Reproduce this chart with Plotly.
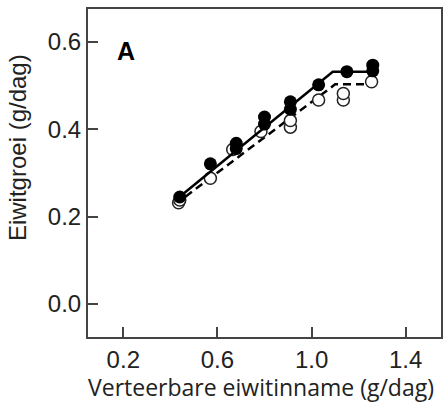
import plotly.graph_objects as go

# Filled circles (solid fit) and open circles (dashed fit)
filled_x = [0.44, 0.57, 0.68, 0.68, 0.80, 0.80, 0.91, 0.91, 1.03, 1.15, 1.26, 1.26]
filled_y = [0.245, 0.321, 0.368, 0.356, 0.428, 0.412, 0.463, 0.446, 0.502, 0.532, 0.547, 0.534]
open_x = [0.435, 0.44, 0.57, 0.665, 0.785, 0.91, 0.91, 1.03, 1.135, 1.135, 1.255]
open_y = [0.232, 0.238, 0.288, 0.354, 0.395, 0.405, 0.420, 0.467, 0.467, 0.482, 0.509]

# Broken-line fits
fit_solid_x = [0.42, 1.09, 1.27]
fit_solid_y = [0.237, 0.532, 0.532]
fit_dash_x = [0.42, 1.10, 1.25, 1.25]
fit_dash_y = [0.228, 0.503, 0.503, 0.509]

x_ticks = [0.2, 0.6, 1.0, 1.4]
y_ticks = [0.0, 0.2, 0.4, 0.6]
x_title = "Verteerbare eiwitinname (g/dag)"
y_title = "Eiwitgroei (g/dag)"
panel_label = "A"

fig = go.Figure()
fig.add_trace(go.Scatter(x=fit_dash_x, y=fit_dash_y, mode="lines",
                         line=dict(color="black", width=2.5, dash="8px,5px"),
                         showlegend=False, hoverinfo="skip"))
fig.add_trace(go.Scatter(x=open_x, y=open_y, mode="markers",
                         marker=dict(symbol="circle", size=12, color="white",
                                     line=dict(color="#222", width=1.5)),
                         showlegend=False))
fig.add_trace(go.Scatter(x=fit_solid_x, y=fit_solid_y, mode="lines",
                         line=dict(color="black", width=2.5),
                         showlegend=False, hoverinfo="skip"))
fig.add_trace(go.Scatter(x=filled_x, y=filled_y, mode="markers",
                         marker=dict(symbol="circle", size=13, color="black",
                                     line=dict(color="black", width=0)),
                         showlegend=False))

tick_font = dict(size=24, family="Liberation Sans, Arial, sans-serif", color="#222")
fig.update_layout(
    width=444, height=402,
    margin=dict(l=88, r=1, t=9, b=65),
    paper_bgcolor="white", plot_bgcolor="white",
    font=dict(family="Liberation Sans, Arial, sans-serif", color="#222"),
    xaxis=dict(range=[0.05, 1.55], tickvals=x_ticks, ticktext=[f"{v:.1f}" for v in x_ticks],
               ticks="inside", ticklen=10, tickwidth=1.5, tickcolor="#444",
               showline=True, linecolor="#444", linewidth=2, mirror=True,
               showgrid=False, zeroline=False, tickfont=tick_font),
    yaxis=dict(range=[-0.0756, 0.6756], tickvals=y_ticks, ticktext=[f"{v:.1f}" for v in y_ticks],
               ticks="inside", ticklen=10, tickwidth=1.5, tickcolor="#444",
               showline=True, linecolor="#444", linewidth=2, mirror=True,
               showgrid=False, zeroline=False, tickfont=tick_font),
    annotations=[
        dict(text="<b>" + panel_label + "</b>", x=0.21, y=0.58, xref="x", yref="y", showarrow=False,
             font=dict(size=25, family="Liberation Sans, Arial, sans-serif", color="black"),
             xanchor="center", yanchor="middle"),
        dict(text=x_title, xref="paper", yref="paper", x=0.49, y=0, yshift=-50,
             showarrow=False, xanchor="center", yanchor="middle",
             font=dict(size=23, family="Open Sans, sans-serif", color="#222")),
        dict(text=y_title, xref="paper", yref="paper", x=0, xshift=-71, y=0.576,
             textangle=-90, showarrow=False, xanchor="center", yanchor="middle",
             font=dict(size=24, family="Liberation Sans, Arial, sans-serif", color="#222")),
    ],
)
fig.write_html("out.html", config={"displayModeBar": False},
               post_script="document.body.style.margin='0px';document.body.style.padding='0px';")
